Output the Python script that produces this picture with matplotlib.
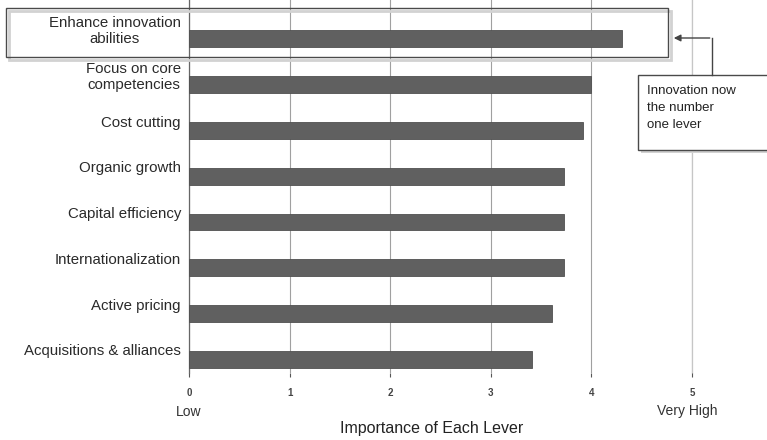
import matplotlib
matplotlib.use("Agg")
import matplotlib.pyplot as plt
from matplotlib.patches import Rectangle, FancyArrowPatch
from matplotlib.lines import Line2D

plt.rcParams['font.family'] = ['Liberation Sans', 'DejaVu Sans']

categories = ["Enhance innovation\nabilities", "Focus on core\ncompetencies", "Cost cutting",
              "Organic growth", "Capital efficiency", "Internationalization",
              "Active pricing", "Acquisitions & alliances"]
values = [4.30, 4.00, 3.92, 3.73, 3.73, 3.73, 3.61, 3.41]
xticks = [0, 1, 2, 3, 4, 5]

W, H = 767, 440
fig = plt.figure(figsize=(W/100, H/100), dpi=100)
ax = fig.add_axes([189/W, 1-373/H, (692-189)/W, 373/H])

pos = list(range(len(categories)))
ax.barh(pos, values, height=0.37, color="#606060", edgecolor="#505050", linewidth=0.6, zorder=3)
ax.set_xlim(0, 5)
ax.set_ylim(len(categories) - 1 + 0.3, -0.85)
ax.set_xticks(xticks)
ax.set_xticklabels([str(t) for t in xticks], fontsize=7, fontweight='bold', color="#444444")
ax.set_yticks([])
ax.grid(axis='x', color="#a0a0a0", linewidth=0.8, zorder=0)
for s in ['top', 'right']:
    ax.spines[s].set_visible(False)
ax.spines['bottom'].set_visible(False)
ax.spines['left'].set_color("#666666")
ax.spines['left'].set_linewidth(0.9)
ax.axvline(5, color="#c6c6c6", linewidth=0.9, zorder=1, clip_on=False)
ax.tick_params(axis='x', length=3, width=0.8, color="#555555", pad=8)

for i, lab in enumerate(categories):
    ax.text(-0.08, i - 0.17, lab, ha='right', va='center', multialignment='center',
            fontsize=10.8, color="#2a2a2a", linespacing=1.25)

fig.text(189/W, 1-412/H, "Low", ha='center', va='center', fontsize=10, color="#333333")
fig.text(687/W, 1-411/H, "Very High", ha='center', va='center', fontsize=10, color="#333333")
fig.text(432/W, 1-428/H, "Importance of Each Lever", ha='center', va='center', fontsize=11.5, color="#222222")

def px(x, y):
    return (x / W, 1 - y / H)

# highlight box with shadow
x0, y0, x1, y1 = 6, 8, 668, 57
fig.patches.append(Rectangle(px(x0 + 3, y1 + 3), (x1 - x0) / W, (y1 - y0) / H, transform=fig.transFigure,
                             fill=False, edgecolor="#d2d2d2", linewidth=2, zorder=5))
fig.patches.append(Rectangle(px(x0, y1), (x1 - x0) / W, (y1 - y0) / H, transform=fig.transFigure,
                             fill=False, edgecolor="#4a4a4a", linewidth=1.0, zorder=6))

# callout box
bx0, by0, bx1, by1 = 638, 75, 775, 150
fig.patches.append(Rectangle(px(bx0 + 3, by1 + 3), (bx1 - bx0) / W, (by1 - by0) / H, transform=fig.transFigure,
                             facecolor="#d2d2d2", edgecolor="none", zorder=5))
fig.patches.append(Rectangle(px(bx0, by1), (bx1 - bx0) / W, (by1 - by0) / H, transform=fig.transFigure,
                             facecolor="white", edgecolor="#4a4a4a", linewidth=1.0, zorder=6))
fig.text(647/W, 1-108/H, "Innovation now\nthe number\none lever", ha='left', va='center',
         fontsize=9.5, color="#222222", linespacing=1.5, zorder=7)

# elbow arrow
fig.lines.append(Line2D([712/W, 712/W], [1-75/H, 1-38/H], transform=fig.transFigure,
                        color="#444444", linewidth=1.0, zorder=7))
fig.patches.append(FancyArrowPatch(px(712.5, 38), px(671, 38), transform=fig.transFigure,
                                   arrowstyle='-|>', mutation_scale=10, color="#444444",
                                   linewidth=1.0, zorder=7))

fig.savefig("out.png", dpi=100)
